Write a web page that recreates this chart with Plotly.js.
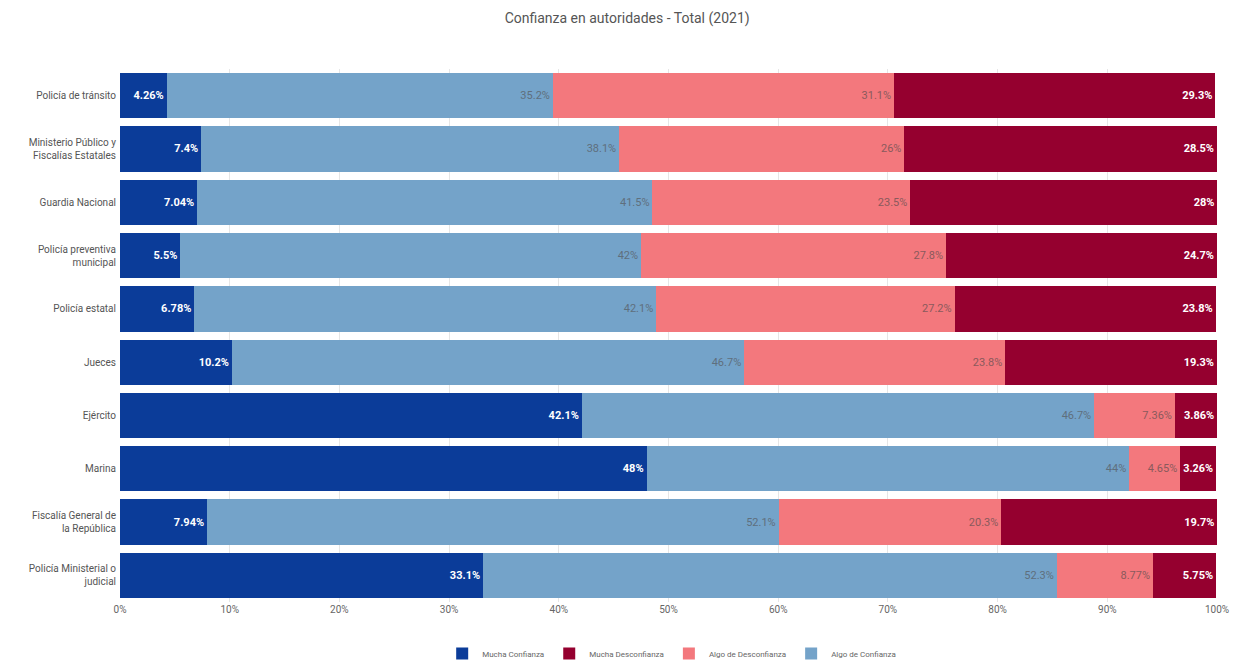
<!DOCTYPE html>
<html>
<head>
<meta charset="utf-8">
<script src="https://cdn.plot.ly/plotly-3.0.1.min.js"></script>
<style>html,body{margin:0;padding:0;background:#fff;}#chart{width:1237px;height:664px;}</style>
</head>
<body>
<div id="chart"></div>
<script>
const categories = [
  "Policía de tránsito",
  "Ministerio Público y<br>Fiscalías Estatales",
  "Guardia Nacional",
  "Policía preventiva<br>municipal",
  "Policía estatal",
  "Jueces",
  "Ejército",
  "Marina",
  "Fiscalía General de<br>la República",
  "Policía Ministerial o<br>judicial"
];
const muchaConfianza     = [4.26, 7.4, 7.04, 5.5, 6.78, 10.2, 42.1, 48, 7.94, 33.1];
const algoConfianza      = [35.2, 38.1, 41.5, 42, 42.1, 46.7, 46.7, 44, 52.1, 52.3];
const algoDesconfianza   = [31.1, 26, 23.5, 27.8, 27.2, 23.8, 7.36, 4.65, 20.3, 8.77];
const muchaDesconfianza  = [29.3, 28.5, 28, 24.7, 23.8, 19.3, 3.86, 3.26, 19.7, 5.75];
const xTickValues = [0,10,20,30,40,50,60,70,80,90,100];
const xTickLabels = ["0%","10%","20%","30%","40%","50%","60%","70%","80%","90%","100%"];

const font = "Roboto, 'Noto Sans', sans-serif";
function mk(name, vals, color, txtColor, bold, rank) {
  return {
    type: 'bar', orientation: 'h', name: name,
    y: categories, x: vals,
    marker: {color: color},
    text: vals.map(v => (bold ? '<b>' + v + '%</b>' : v + '%')),
    textposition: 'inside', insidetextanchor: 'end', textangle: 0,
    textfont: {color: txtColor, size: 11, family: font},
    hoverinfo: 'x+name', legendrank: rank
  };
}
const data = [
  mk('Mucha Confianza', muchaConfianza, '#0b3c99', '#ffffff', true, 1),
  mk('Algo de Confianza', algoConfianza, '#74a3c9', '#5f6f7d', false, 4),
  mk('Algo de Desconfianza', algoDesconfianza, '#f3787d', '#8a5a5c', false, 3),
  mk('Mucha Desconfianza', muchaDesconfianza, '#95002f', '#ffffff', true, 2)
];
const layout = {
  width: 1237, height: 664,
  barmode: 'stack', bargap: 0.15,
  paper_bgcolor: '#fff', plot_bgcolor: '#fff',
  margin: {l: 120, r: 20, t: 69, b: 62},
  title: {text: 'Confianza en autoridades - Total (2021)', x: 0.507, xanchor: 'center', y: 0.972, yanchor: 'middle',
          font: {family: font, size: 14, color: '#555'}},
  xaxis: {range: [0, 100], tickmode: 'array', tickvals: xTickValues, ticktext: xTickLabels,
          showgrid: true, gridcolor: '#e6e6e6', automargin: false,
          zeroline: false, tickfont: {family: font, size: 10, color: '#666'}, fixedrange: true},
  yaxis: {autorange: 'reversed', tickfont: {family: font, size: 10, color: '#555'},
          ticks: 'outside', ticklen: 1, tickcolor: 'rgba(0,0,0,0)',
          showgrid: false, automargin: false},
  legend: {orientation: 'h', x: 0.543, xanchor: 'center', xref: 'container', yref: 'container', y: 0.016, yanchor: 'middle',
           font: {family: font, size: 8, color: '#666'}, traceorder: 'normal'},
  showlegend: true
};
Plotly.newPlot('chart', data, layout, {displayModeBar: false, staticPlot: true});
</script>
</body>
</html>
